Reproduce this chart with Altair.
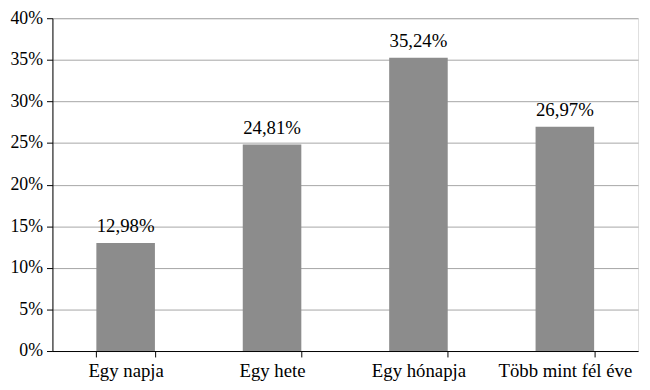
import altair as alt
import pandas as pd

categories = ["Egy napja", "Egy hete", "Egy hónapja", "Több mint fél éve"]
values = [12.98, 24.81, 35.24, 26.97]

df = pd.DataFrame({"cat": categories, "val": values})
df["label"] = [f"{v:.2f}".replace(".", ",") + "%" for v in values]

FONT = "Liberation Serif"

x = alt.X("cat:N", sort=categories, title=None,
          scale=alt.Scale(paddingInner=0.6, paddingOuter=0.3),
          axis=alt.Axis(labelAngle=0, labelFont=FONT, labelFontSize=19, labelColor="black",
                        domainColor="black", tickColor="black", tickBand="extent",
                        tickSize=6, labelPadding=5, grid=False))
y = alt.Y("val:Q", title=None,
          scale=alt.Scale(domain=[0, 40]),
          axis=alt.Axis(values=[0, 5, 10, 15, 20, 25, 30, 35, 40],
                        labelExpr="datum.value + '%'",
                        labelFont=FONT, labelFontSize=18, labelColor="black",
                        domainColor="black", tickColor="black", tickSize=6,
                        labelPadding=4, gridColor="#a6a6a6", gridWidth=1))

bars = alt.Chart(df).mark_bar(color="#8c8c8c").encode(x=x, y=y)
text = alt.Chart(df).mark_text(dy=-11, baseline="alphabetic", font=FONT, fontSize=19,
                               color="black").encode(
    x=alt.X("cat:N", sort=categories), y="val:Q", text="label:N")

chart = (bars + text).properties(
    width=593, height=337,
    autosize=alt.AutoSizeParams(type="none"),
    padding={"left": 45, "top": 8, "right": 4, "bottom": 29},
).configure_view(stroke=None).configure(background="white")

chart.save("out.html", embed_options={"renderer": "svg", "actions": False})
